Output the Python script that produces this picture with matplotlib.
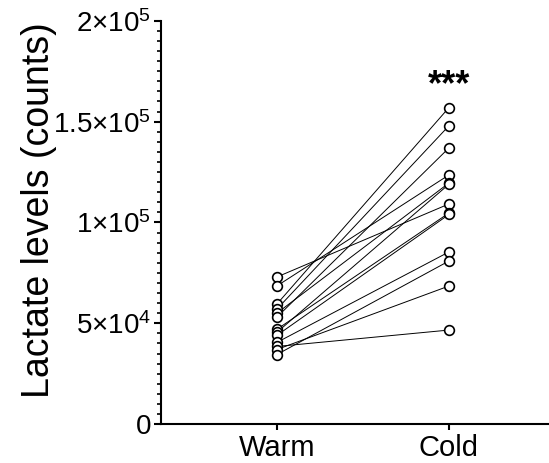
import numpy as np
import matplotlib
matplotlib.use("Agg")
import matplotlib.pyplot as plt
from matplotlib.ticker import FixedLocator, MultipleLocator

plt.rcParams["font.family"] = ["Liberation Sans", "DejaVu Sans"]
plt.rcParams["mathtext.fontset"] = "custom"
plt.rcParams["mathtext.rm"] = "Liberation Sans"
plt.rcParams["mathtext.it"] = "Liberation Sans"

# ── data (paired samples, lactate counts) ─────────────────────────────────
groups = ["Warm", "Cold"]
warm = [72950, 68500, 59500, 57000, 55000, 53000, 47000,
        45500, 44000, 40500, 38500, 37000, 34500]
cold = [109200, 123600, 157000, 148000, 119600, 137000, 104700,
        119000, 104000, 85400, 46650, 68500, 80900]
yticks = [0, 50000, 100000, 150000, 200000]
ytick_labels = ["0", r"$5{\times}10^{4}$", r"$1{\times}10^{5}$",
                r"$1.5{\times}10^{5}$", r"$2{\times}10^{5}$"]
signif = "***"
signif_y = 163000

fig = plt.figure(figsize=(5.49, 4.63), dpi=100)
ax = fig.add_axes([0.293, 0.084, 0.707, 0.871])

for w, c in zip(warm, cold):
    ax.plot([0, 1], [w, c], "-", color="black", lw=0.7, zorder=2)
ax.plot(np.zeros(len(warm)), warm, "o", ms=7, mfc="white", mec="black",
        mew=1.2, ls="none", zorder=3)
ax.plot(np.ones(len(cold)), cold, "o", ms=7, mfc="white", mec="black",
        mew=1.2, ls="none", zorder=3)

ax.text(1, signif_y, signif, ha="center", va="baseline",
        fontsize=26, fontweight="bold")

ax.set_xlim(-0.674, 1.581)
ax.set_ylim(0, 200000)
ax.set_xticks([0, 1])
ax.set_xticklabels(groups, fontsize=21)
ax.yaxis.set_major_locator(FixedLocator(yticks))
ax.set_yticklabels(ytick_labels, fontsize=20)
ax.yaxis.set_minor_locator(MultipleLocator(5000))
ax.set_ylabel("Lactate levels (counts)", fontsize=27)
ax.yaxis.set_label_coords(-0.268, 0.53)

for s in ["top", "right"]:
    ax.spines[s].set_visible(False)
for s in ["left", "bottom"]:
    ax.spines[s].set_linewidth(1.5)
ax.tick_params(axis="y", which="major", length=5, width=1.5, pad=2)
ax.tick_params(axis="y", which="minor", length=3, width=1.2)
ax.tick_params(axis="x", length=4, width=1.5, pad=3)

fig.savefig("out.png", dpi=100)
